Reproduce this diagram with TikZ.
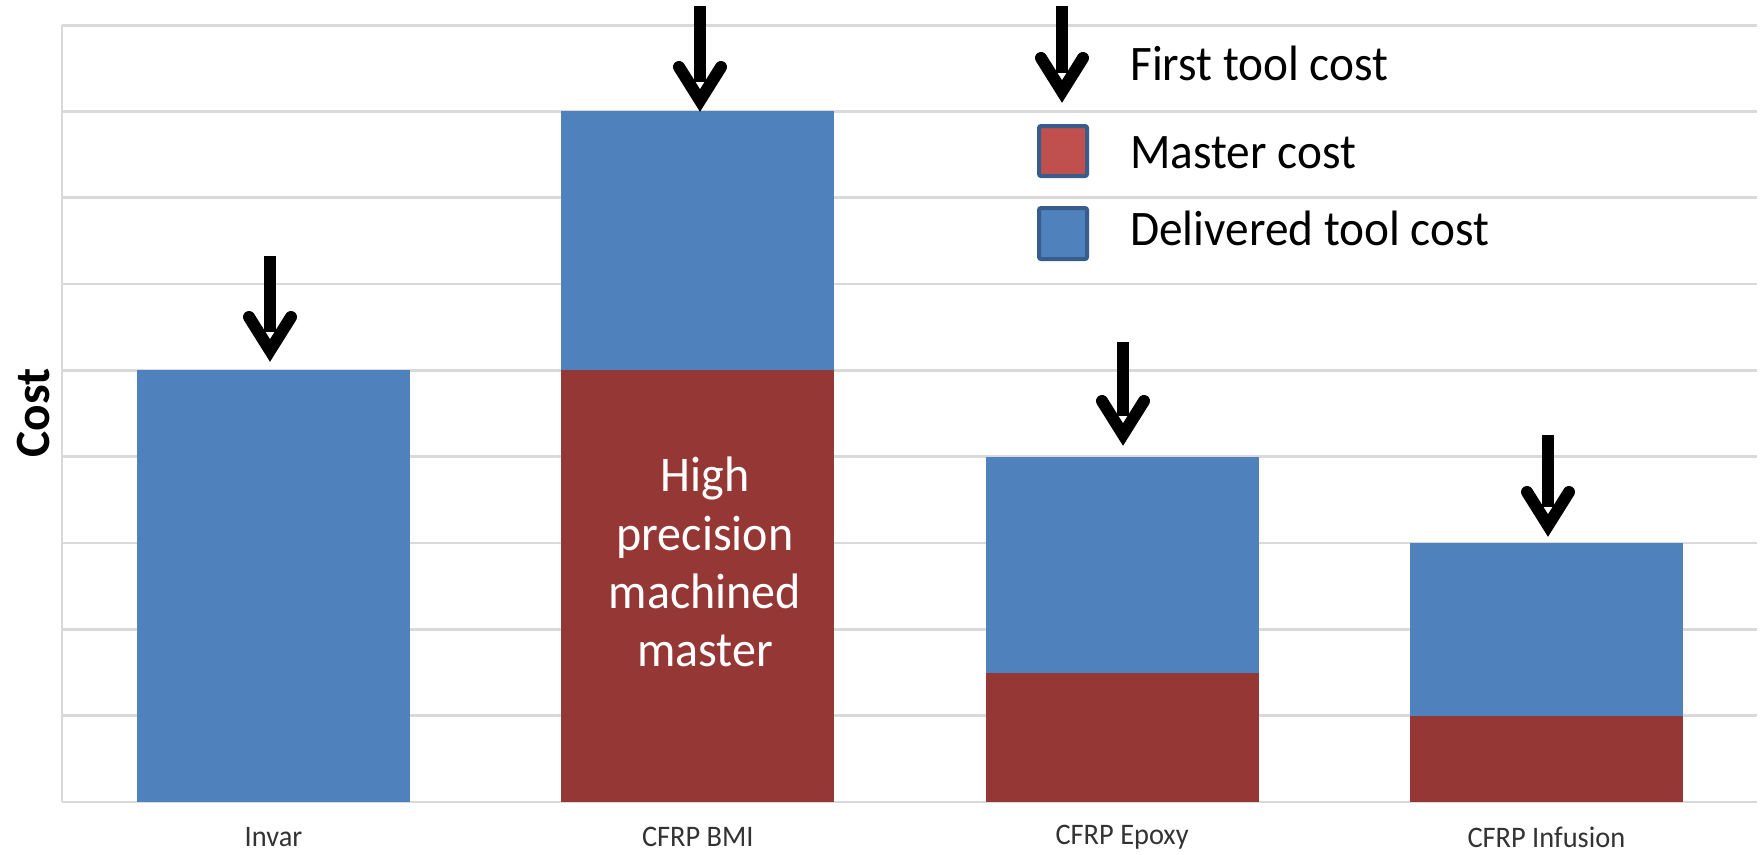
\documentclass[tikz,border=0pt]{standalone}
\usepackage{fontspec}
\setmainfont{Carlito}
\usetikzlibrary{calc}

\definecolor{toolblue}{RGB}{79,129,189}
\definecolor{masterred}{RGB}{149,55,53}
\definecolor{keyred}{RGB}{192,80,77}
\definecolor{keyedge}{RGB}{56,93,138}
\definecolor{gridgray}{RGB}{217,217,217}

\tikzset{
  gridline/.style={draw=gridgray, line width=2.2},
  deliveredbar/.style={fill=toolblue},
  masterbar/.style={fill=masterred},
  costshaft/.style={line width=8.6, line cap=butt},
  costbarb/.style={line width=9, line cap=round, line join=miter},
  keybox/.style={draw=keyedge, line width=3, rounded corners=1.5},
  keytext/.style={anchor=west, inner sep=0, yscale=1.05, font=\fontsize{35.5}{42}\selectfont},
  catlabel/.style={inner sep=0, text=black!80, yscale=1.05, font=\fontsize{21.3}{24}\selectfont}
}

\begin{document}
\begin{tikzpicture}[x=0.75pt,y=0.75pt,yscale=-1,xscale=1]
    \useasboundingbox (0,0) rectangle (1761,854);

    %Grid lines and left axis
    \foreach \k in {0,...,9}
        \draw[gridline] (62,{802-86.33*\k}) -- (1757,{802-86.33*\k});
    \draw[gridline] (62,25) -- (62,802);

    %Bars
    \fill[deliveredbar] (137,370.3) rectangle (410,802);
    \fill[masterbar] (561.3,370.3) rectangle (834.3,802);
    \fill[deliveredbar] (561.3,111.3) rectangle (834.3,370.3);
    \fill[masterbar] (985.6,672.5) rectangle (1258.6,802);
    \fill[deliveredbar] (985.6,456.7) rectangle (1258.6,672.5);
    \fill[masterbar] (1409.9,715.7) rectangle (1682.9,802);
    \fill[deliveredbar] (1409.9,543) rectangle (1682.9,715.7);

    %First tool cost arrows
    \foreach \nm/\ax/\ay/\tipy in {invar/270/256/362, bmi/700/6/112, epoxy/1123/342/446, infusion/1548/435/537, key/1062/6/103} {
        \coordinate (\nm-tail) at (\ax,\ay);
        \coordinate (\nm-tip) at (\ax,\tipy);
        \draw[costshaft] (\nm-tail) -- ($(\nm-tip)+(0,-30)$);
        \draw[costbarb] ($(\nm-tip)+(-21,-45)$) -- ($(\nm-tip)+(0,-11.5)$) -- ($(\nm-tip)+(21,-45)$);
    }

    %Legend
    \draw[keybox, fill=keyred] (1039,126) rectangle (1087,176);
    \draw[keybox, fill=toolblue] (1039,208) rectangle (1087,259);
    % Text Node
    \node[keytext] (key-first) at (1130,63) {First tool cost};
    % Text Node
    \node[keytext] (key-master) at (1130,153) {Master cost};
    % Text Node
    \node[keytext] (key-delivered) at (1130,228) {Delivered tool cost};

    % Text Node
    \node[inner sep=0, text=white, align=center, yscale=1.04, font=\fontsize{36}{42}\selectfont] (bmi-note) at (705,562) {High\\precision\\machined\\master};

    % Text Node
    \node[rotate=90, inner sep=0, font=\fontsize{37}{42}\selectfont\bfseries] (cost-axis) at (34,413) {Cost};

    % Category labels
    \node[catlabel] (lab-invar) at (273.5,837) {Invar};
    \node[catlabel] (lab-bmi) at (697.8,837) {CFRP BMI};
    \node[catlabel] (lab-epoxy) at (1122.1,837) {CFRP Epoxy};
    \node[catlabel] (lab-infusion) at (1546.4,837) {CFRP Infusion};

\end{tikzpicture}
\end{document}
